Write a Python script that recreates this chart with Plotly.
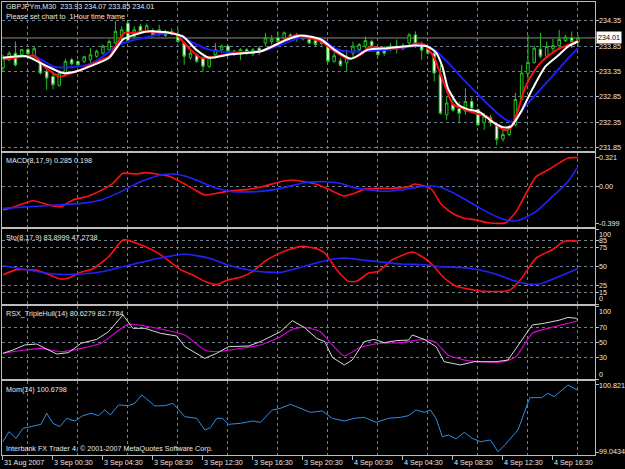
import plotly.graph_objects as go

# ---------------- data ----------------
header_main = "GBPJPYm,M30  233.93 234.07 233.85 234.01"
header_note = "Please set chart to  1Hour time frame"
header_macd = "MACD(8,17,9) 0.285 0.198"
header_sto = "Sto(8,17,9) 83.8999 47.2738"
header_rsx = "RSX_TripleHull(14) 80.6279 82.7784"
header_mom = "Mom(14) 100.6798"
copyright_text = "Interbank FX Trader 4, \u00a9 2001-2007 MetaQuotes Software Corp."

time_label_bars = [0, 8, 16, 24, 32, 40, 48, 56, 64, 72, 80, 88]
time_labels = ["31 Aug 2007", "3 Sep 00:30", "3 Sep 04:30", "3 Sep 08:30", "3 Sep 12:30",
               "3 Sep 16:30", "3 Sep 20:30", "4 Sep 00:30", "4 Sep 04:30", "4 Sep 08:30",
               "4 Sep 12:30", "4 Sep 16:30"]
grid_bars = [4, 12, 20, 28, 36, 44, 52, 60, 68, 76, 84, 92]

bar_open = [233.42, 233.58, 233.71, 233.68, 233.78, 233.66, 233.52, 233.35, 233.25, 233.08,
            233.29, 233.58, 233.55, 233.55, 233.58, 233.65, 233.71, 233.78, 233.91, 234.04,
            234.30, 234.04, 234.24, 234.14, 234.16, 234.11, 234.14, 234.09, 234.07, 233.91,
            233.62, 233.68, 233.62, 233.45, 233.68, 233.78, 233.85, 233.75, 233.71, 233.78,
            233.70, 233.81, 233.91, 233.94, 234.01, 234.01, 234.07, 234.07, 233.99, 233.98,
            233.96, 233.96, 233.85, 233.55, 233.56, 233.52, 233.71, 233.78, 233.85, 233.94,
            233.78, 233.81, 233.78, 233.85, 233.79, 233.91, 234.07, 233.85, 233.79, 233.71,
            233.29, 232.50, 232.70, 232.62, 232.57, 232.76, 232.60, 232.34, 232.45, 232.30,
            232.02, 232.11, 232.30, 232.80, 233.31, 233.53, 233.79, 233.65, 233.80, 233.86,
            233.96, 234.01, 233.93]
bar_high = [233.68, 233.75, 233.94, 233.79, 233.81, 233.85, 233.55, 233.42, 233.32, 233.35,
            233.60, 233.62, 233.57, 233.66, 233.81, 233.78, 233.88, 233.98, 234.34, 234.24,
            234.35, 234.24, 234.29, 234.29, 234.20, 234.27, 234.17, 234.20, 234.20, 233.94,
            233.78, 233.71, 233.65, 233.65, 233.91, 233.88, 233.88, 233.78, 233.81, 233.81,
            233.81, 233.85, 234.11, 234.07, 234.14, 234.14, 234.11, 234.11, 234.07, 234.04,
            234.01, 234.00, 233.91, 233.81, 233.62, 233.78, 233.94, 233.91, 234.04, 233.98,
            233.85, 233.85, 233.91, 233.98, 233.91, 234.11, 234.14, 233.94, 233.85, 233.78,
            233.48, 232.86, 232.89, 232.76, 233.02, 232.83, 232.63, 232.53, 232.50, 232.33,
            232.20, 232.30, 232.93, 233.48, 234.07, 233.86, 234.11, 233.94, 233.99, 234.17,
            234.07, 234.14, 234.07]
bar_low = [233.35, 233.55, 233.45, 233.62, 233.66, 233.58, 233.29, 232.99, 233.00, 233.05,
           233.25, 233.47, 233.47, 233.52, 233.52, 233.62, 233.68, 233.75, 233.88, 233.94,
           233.91, 234.01, 234.11, 234.11, 234.04, 234.04, 234.03, 234.06, 233.91, 233.48,
           233.58, 233.52, 233.35, 233.42, 233.65, 233.71, 233.71, 233.65, 233.58, 233.68,
           233.65, 233.68, 233.85, 233.88, 233.91, 233.98, 233.99, 233.94, 233.96, 233.88,
           233.85, 233.86, 233.52, 233.52, 233.45, 233.34, 233.62, 233.75, 233.81, 233.81,
           233.65, 233.65, 233.75, 233.71, 233.78, 233.85, 233.81, 233.58, 233.68, 233.16,
           232.50, 232.40, 232.55, 232.33, 232.50, 232.60, 232.27, 232.20, 232.27, 231.90,
           231.97, 232.08, 232.27, 232.78, 233.19, 233.50, 233.61, 233.62, 233.74, 233.78,
           233.93, 233.81, 233.85]
bar_close = [233.62, 233.71, 233.48, 233.78, 233.70, 233.80, 233.32, 233.22, 233.09, 233.32,
             233.55, 233.50, 233.48, 233.64, 233.68, 233.75, 233.85, 233.94, 234.14, 234.17,
             233.94, 234.17, 234.14, 234.25, 234.07, 234.17, 234.06, 234.14, 233.94, 233.65,
             233.71, 233.55, 233.45, 233.62, 233.78, 233.85, 233.75, 233.68, 233.78, 233.71,
             233.78, 233.73, 234.01, 233.99, 233.94, 234.11, 234.03, 233.99, 234.04, 233.91,
             233.88, 233.90, 233.55, 233.66, 233.47, 233.62, 233.85, 233.88, 233.96, 233.85,
             233.68, 233.71, 233.85, 233.79, 233.85, 234.07, 233.85, 233.77, 233.71, 233.32,
             232.53, 232.73, 232.59, 232.53, 232.76, 232.63, 232.30, 232.47, 232.34, 232.01,
             232.11, 232.25, 232.80, 233.32, 233.53, 233.81, 233.65, 233.84, 233.86, 233.98,
             234.03, 233.94, 234.01]
bar_index = list(range(len(bar_close)))

ma_fast_x = [0, 3, 5, 6.6, 9, 10.3, 12.5, 14.6, 17, 18.3, 19.4, 21, 22.6, 25, 27.4, 28.5, 30, 31.7,
             34, 37, 41.3, 44.5, 46.6, 48, 50.9, 53, 55.2, 57.3, 58.4, 61.6, 64.8, 65.9, 67.4, 69,
             70, 71, 72, 73.5, 75.5, 77.5, 79.2, 80.3, 81.2, 82.3, 83.5, 85, 86.5, 88.7, 90.5, 92]
ma_fast_y = [233.58, 233.64, 233.66, 233.45, 233.25, 233.29, 233.39, 233.52, 233.65, 233.91, 234.11,
             234.11, 234.14, 234.11, 234.11, 233.98, 233.78, 233.62, 233.65, 233.71, 233.75, 233.94,
             234.06, 234.04, 233.94, 233.75, 233.60, 233.68, 233.82, 233.81, 233.84, 233.90, 233.88,
             233.62, 233.30, 232.98, 232.70, 232.62, 232.53, 232.46, 232.27, 232.20, 232.23, 232.55,
             233.02, 233.36, 233.58, 233.78, 233.88, 233.96]
ma_mid_x = [0, 3.7, 7.1, 9.6, 11.7, 13.9, 17, 19.2, 21, 23.5, 26.7, 28.8, 30.9, 33, 36, 41.3, 45.5,
            47.7, 50.9, 53, 55.7, 58.4, 61.6, 65.9, 68, 69.3, 70.3, 71.2, 72.8, 74.3, 76.3, 78.3,
            80.2, 81.3, 82.9, 84.7, 86.8, 88.7, 90.4, 92]
ma_mid_y = [233.62, 233.65, 233.45, 233.32, 233.35, 233.45, 233.62, 233.98, 234.07, 234.14, 234.11,
            234.04, 233.78, 233.62, 233.68, 233.75, 233.98, 234.06, 233.98, 233.78, 233.60, 233.78,
            233.81, 233.86, 233.84, 233.72, 233.45, 233.02, 232.70, 232.61, 232.55, 232.36, 232.25,
            232.27, 232.56, 233.00, 233.45, 233.65, 233.84, 233.94]
ma_slow_x = [0, 5, 8, 10.3, 13.5, 15.7, 18, 20, 23.5, 26.5, 28, 30, 33, 37, 41.3, 44.5, 47.7, 51,
             53, 54.6, 58.4, 61.6, 64.8, 67.4, 69, 71.4, 74, 76.8, 79.4, 81, 81.8, 83.4, 85.5, 88,
             90.2, 92]
ma_slow_y = [233.62, 233.65, 233.45, 233.43, 233.48, 233.62, 233.84, 233.94, 234.04, 234.11, 234.07,
             233.94, 233.78, 233.73, 233.75, 233.88, 234.02, 233.99, 233.81, 233.75, 233.75, 233.78,
             233.83, 233.86, 233.78, 233.50, 233.15, 232.80, 232.50, 232.37, 232.37, 232.64, 232.93,
             233.27, 233.58, 233.81]

price_levels = [231.85, 232.35, 232.85, 233.35, 233.85, 234.35]

macd_x = [0, 1.6, 4.8, 8, 9.3, 11.2, 13.7, 16.3, 17.6, 19.2, 21.4, 22.7, 24.6, 26.5, 28.4, 30.3,
          32.3, 34.2, 36.7, 39.3, 41.9, 44.4, 46.3, 48.2, 50.2, 52.1, 54.6, 55.9, 57.8, 59.7, 62.3,
          64.9, 65.8, 67.4, 68.7, 70, 71.9, 73.8, 75.7, 77.6, 79.6, 80.5, 82.1, 84, 85.3, 87.2,
          89.1, 90.4, 92]
macd_y = [-0.252, -0.223, -0.150, -0.208, -0.215, -0.142, -0.099, -0.015, 0.040, 0.150, 0.142,
          0.157, 0.142, 0.120, 0.058, -0.015, -0.088, -0.069, -0.040, -0.026, 0.011, 0.058, 0.077,
          0.058, 0.029, -0.026, -0.099, -0.077, -0.026, -0.015, -0.015, 0.004, 0.033, 0.011,
          -0.033, -0.179, -0.288, -0.343, -0.361, -0.391, -0.398, -0.391, -0.270, -0.033, 0.113,
          0.186, 0.267, 0.318, 0.321]
macd_sig_x = [0, 6.1, 12.5, 15.7, 18.9, 22, 25.2, 27.2, 29.1, 31.6, 34.2, 36.7, 40.6, 44.4, 48.2,
              51.4, 54, 56, 58.5, 61, 63.6, 66.1, 68.7, 70, 73.2, 76.4, 79.6, 81.5, 82.7, 85.3,
              87.9, 90.4, 92]
macd_sig_y = [-0.234, -0.208, -0.179, -0.142, -0.051, 0.058, 0.131, 0.142, 0.120, 0.058, -0.015,
              -0.051, -0.051, -0.015, 0.047, 0.058, 0.040, -0.004, -0.033, -0.047, -0.033, -0.004,
              0.011, -0.004, -0.106, -0.234, -0.343, -0.372, -0.361, -0.270, -0.106, 0.058, 0.223]
macd_labels = ["0.321", "0.00", "-0.399"]
macd_label_vals = [0.321, 0.0, -0.399]

sto_x = [0, 2.2, 5.4, 8, 9.3, 10.5, 12.5, 14.4, 17, 18.9, 19.5, 21.7, 23.3, 25.2, 28.4, 30.3, 32.3,
         34.2, 36.1, 38, 40, 41.9, 43.8, 45.7, 47.9, 50.2, 51.5, 53.4, 55.3, 56.6, 58.5, 60.1, 62.3,
         65.5, 67.4, 68.7, 70.6, 72.5, 75.1, 77, 80.2, 81.2, 82.8, 85.3, 87.9, 89.8, 92]
sto_y = [39.1, 45.8, 44.9, 36.9, 33.3, 34.7, 42.2, 47.1, 63.6, 83.6, 85.8, 80, 74.7, 65.8, 45.8,
         39.1, 30.2, 25.8, 32.4, 35.6, 43.6, 56.9, 65.8, 72.4, 76.9, 73.8, 68, 45.8, 30.2, 30.2,
         41.3, 43.6, 59.1, 69.3, 61.3, 52.4, 34.7, 23.6, 19.1, 16.9, 16.9, 19.1, 32.4, 61.3, 72.4,
         83.6, 83.9]
sto_sig_x = [0, 2.9, 8, 12.5, 16.3, 20.1, 25.2, 29.1, 32.9, 36.7, 40.6, 44.4, 48.2, 52.1, 54.6,
             57.2, 60.4, 63.6, 67.4, 70, 74.4, 78.3, 82.1, 84, 85.9, 89.1, 92]
sto_sig_y = [51.1, 47.1, 40, 40, 43.6, 51.6, 61.3, 66.7, 61.3, 50.2, 43.6, 42.2, 50.2, 59.1, 61.3,
             59.1, 56, 53.3, 52.4, 49.8, 48, 41.3, 30.2, 26.7, 26.7, 36.9, 47.3]
sto_levels = [15, 25, 50, 75, 85]
sto_labels = ["100", "85", "75", "50", "25", "15", "0"]
sto_label_vals = [100, 85, 75, 50, 25, 15, 0]

rsx_x = [0, 1.6, 3.5, 5.4, 8.6, 10.5, 12.5, 15, 16.9, 18.2, 19.2, 20.8, 22.7, 25.2, 27.8, 29.1,
         32.3, 34.2, 36.1, 39.3, 41.2, 44.4, 46.3, 48.2, 50.2, 51.5, 52.7, 54.6, 55.9, 57.8, 59.4,
         61, 62.9, 64.9, 65.5, 67.4, 69.3, 70.6, 73.2, 75.4, 77, 78.9, 80.8, 82.8, 84.7, 86.6,
         89.1, 90.4, 91.7, 92]
rsx_y = [35.2, 39.7, 46.6, 47.9, 34.2, 36.1, 48.9, 54.3, 64.8, 78.5, 87.7, 69.4, 69.4, 62.6, 58.9,
         44.3, 28.3, 35.2, 44.3, 45.2, 51.1, 64.8, 79.9, 70.8, 55.7, 51.1, 29.7, 19.2, 26, 51.1,
         54.3, 49.8, 52.5, 53.4, 60.3, 54.3, 44.3, 23.7, 19.2, 23.7, 23.7, 23.7, 26, 51.1, 74,
         76.3, 80.8, 84.5, 83.1, 80.6]
rsx_sig_x = [0, 3.5, 6.1, 9.3, 12.5, 15.7, 18.2, 20.1, 22.7, 26.5, 29.1, 32.3, 34.2, 38, 41.2,
             44.4, 46.3, 48.2, 50.8, 52.7, 54.6, 57.2, 60.4, 63.6, 67.4, 69.3, 71.2, 73.8, 76.4,
             80.2, 82.1, 84.7, 87.9, 90.4, 92]
rsx_sig_y = [35.2, 39.7, 42, 37.4, 42, 48.9, 64.8, 75.3, 72.6, 66.2, 60.3, 39.7, 37.4, 42, 46.6,
             58, 68, 70.8, 64.8, 46.6, 31.5, 43.4, 48.9, 49.8, 54.3, 49.8, 32.9, 26, 23.7, 23.7,
             30.6, 62.6, 70.8, 76.3, 79.9]
rsx_levels = [30, 50, 70]
rsx_labels = ["100", "70", "50", "30", "0"]
rsx_label_vals = [100, 70, 50, 30, 0]

mom_x = [0, 0.96, 2.1, 3.2, 4.5, 6.1, 7, 8, 9.1, 10.2, 11.5, 12.8, 14.1, 15.3, 16.3, 17.2, 18.5,
         20.1, 21.1, 22.2, 23, 24.3, 25.9, 27.2, 29.1, 31, 32.3, 33.2, 34.2, 35.1, 36.1, 38, 40,
         41.2, 43.1, 44.4, 46, 47.6, 49.2, 51.1, 52.7, 54.6, 56.2, 57.8, 59.7, 61.7, 63.6, 64.9,
         66.1, 67.4, 68.4, 69.3, 70.3, 71.3, 72.5, 73.8, 75.1, 76.4, 78, 79.2, 80.2, 82.4, 84.3,
         86.2, 87.2, 88.2, 90.4, 92]
mom_y = [99.318, 99.583, 99.406, 99.671, 99.716, 99.778, 100.07, 99.804, 99.716, 99.937, 99.866,
         100.008, 100.07, 100.008, 100.158, 100.025, 100.291, 100.273, 100.335, 100.556, 100.45,
         100.264, 100.273, 100.335, 99.981, 99.937, 99.627, 99.689, 99.937, 99.937, 99.778,
         99.804, 99.866, 99.83, 100.158, 100.202, 100.308, 100.202, 100.096, 100.131, 99.937,
         99.866, 99.937, 99.963, 99.83, 99.937, 99.963, 100.008, 100.158, 100.096, 100.158,
         99.937, 99.45, 99.494, 99.388, 99.565, 99.406, 99.318, 99.362, 99.052, 99.212, 99.627,
         100.485, 100.485, 100.6, 100.512, 100.821, 100.68]
mom_labels = ["100.8212", "99.0434"]
mom_label_vals = [100.8212, 99.0434]

# ---------------- styling ----------------
W, H = 625, 469
BG = "#000000"
FG = "#e8e8e8"
BORDER = "#bcbcbc"
GRID = "#6f7f8f"
CANDLE = "#22c322"
FONT = "Liberation Sans, Arial, sans-serif"
FS = 7.2


def py(px):
    return 1 - px / H


XDOM = [2 / W, 595 / W]
panels = {  # pixel top, bottom
    1: (2, 151), 2: (153, 227), 3: (229, 304), 4: (306, 379), 5: (381, 455)}
yranges = {1: [231.785, 234.718], 2: [-0.438, 0.372], 3: [0, 100], 4: [0, 100], 5: [98.964, 100.927]}
XRANGE = [-0.15, 94.73]

fig = go.Figure()

fig.add_trace(go.Candlestick(
    x=bar_index, open=bar_open, high=bar_high, low=bar_low, close=bar_close,
    increasing=dict(line=dict(color=CANDLE, width=1), fillcolor="#000000"),
    decreasing=dict(line=dict(color=CANDLE, width=1), fillcolor="#ffffff"),
    whiskerwidth=0, xaxis="x", yaxis="y", showlegend=False, hoverinfo="skip"))

fig.add_trace(go.Scatter(x=ma_slow_x, y=ma_slow_y, mode="lines", line=dict(color="#1c1cff", width=2, shape="spline", smoothing=0.6),
                         xaxis="x", yaxis="y", showlegend=False, hoverinfo="skip"))
fig.add_trace(go.Scatter(x=ma_fast_x, y=ma_fast_y, mode="lines", line=dict(color="#ff1010", width=2, shape="spline", smoothing=0.6),
                         xaxis="x", yaxis="y", showlegend=False, hoverinfo="skip"))
fig.add_trace(go.Scatter(x=ma_mid_x, y=ma_mid_y, mode="lines", line=dict(color="#ffffff", width=2, shape="spline", smoothing=0.6),
                         xaxis="x", yaxis="y", showlegend=False, hoverinfo="skip"))

fig.add_trace(go.Scatter(x=macd_x, y=macd_y, mode="lines", line=dict(color="#ff1010", width=1.6, shape="spline", smoothing=0.5),
                         xaxis="x2", yaxis="y2", showlegend=False, hoverinfo="skip"))
fig.add_trace(go.Scatter(x=macd_sig_x, y=macd_sig_y, mode="lines", line=dict(color="#2222ff", width=1.6, shape="spline", smoothing=0.5),
                         xaxis="x2", yaxis="y2", showlegend=False, hoverinfo="skip"))

fig.add_trace(go.Scatter(x=sto_x, y=sto_y, mode="lines", line=dict(color="#ff1010", width=1.6, shape="spline", smoothing=0.5),
                         xaxis="x3", yaxis="y3", showlegend=False, hoverinfo="skip"))
fig.add_trace(go.Scatter(x=sto_sig_x, y=sto_sig_y, mode="lines", line=dict(color="#2222ff", width=1.6, shape="spline", smoothing=0.5),
                         xaxis="x3", yaxis="y3", showlegend=False, hoverinfo="skip"))

fig.add_trace(go.Scatter(x=rsx_sig_x, y=rsx_sig_y, mode="lines", line=dict(color="#e000e0", width=1.1, shape="spline", smoothing=0.5),
                         xaxis="x4", yaxis="y4", showlegend=False, hoverinfo="skip"))
fig.add_trace(go.Scatter(x=rsx_x, y=rsx_y, mode="lines", line=dict(color="#d8d8d8", width=1),
                         xaxis="x4", yaxis="y4", showlegend=False, hoverinfo="skip"))

fig.add_trace(go.Scatter(x=mom_x, y=mom_y, mode="lines", line=dict(color="#2b8fea", width=1),
                         xaxis="x5", yaxis="y5", showlegend=False, hoverinfo="skip"))

# current price line
fig.add_shape(type="line", xref="x domain", x0=0, x1=1, yref="y", y0=bar_close[-1], y1=bar_close[-1],
              line=dict(color="#8a8a8a", width=1), layer="below")

grid_levels = {1: price_levels, 2: [0.0], 3: sto_levels, 4: rsx_levels, 5: []}
tick_only = {1: [], 2: [0.321, -0.399], 3: [0, 100], 4: [0, 100], 5: mom_label_vals}

layout = dict(width=W, height=H, margin=dict(l=0, r=0, t=0, b=0), paper_bgcolor=BG, plot_bgcolor=BG,
              showlegend=False, boxgap=0.42, font=dict(family=FONT, size=FS, color=FG), hovermode=False)
for k in range(1, 6):
    sx = "" if k == 1 else str(k)
    top, bot = panels[k]
    xa = dict(domain=XDOM, range=XRANGE, anchor="y" + sx, tickmode="array", tickvals=grid_bars,
              showgrid=True, gridcolor=GRID, griddash="dot", gridwidth=1, showticklabels=False,
              ticks="", showline=True, mirror=True, linecolor=BORDER, linewidth=1, zeroline=False,
              fixedrange=True, rangeslider=dict(visible=False))
    if k == 5:
        xa["minor"] = dict(tickmode="array", tickvals=time_label_bars, ticks="outside", ticklen=4,
                           tickcolor=BORDER, showgrid=False)
    ya = dict(domain=[py(bot), py(top)], range=yranges[k], anchor="x" + sx, side="right",
              tickmode="array", tickvals=grid_levels[k], showgrid=len(grid_levels[k]) > 0,
              gridcolor=GRID, griddash="dot", gridwidth=1, showticklabels=False,
              ticks="outside", ticklen=3, tickcolor=BORDER, showline=True, mirror=True,
              linecolor=BORDER, linewidth=1, zeroline=False, fixedrange=True,
              minor=dict(tickmode="array", tickvals=tick_only[k], ticks="outside", ticklen=3,
                         tickcolor=BORDER, showgrid=False))
    layout["xaxis" + sx] = xa
    layout["yaxis" + sx] = ya
fig.update_layout(**layout)

ann = []
def txt(text, x, y, xref="paper", yref="paper", xanchor="left", **kw):
    d = dict(text=text, x=x, y=y, xref=xref, yref=yref, xanchor=xanchor, yanchor="middle",
             showarrow=False, font=dict(family=FONT, size=FS, color=FG), borderpad=0)
    d.update(kw)
    ann.append(d)

LX = 5 / W
txt(header_main, LX, py(6.7))
txt(header_note, LX, py(16.5))
txt(header_macd, LX, py(160.5))
txt(header_sto, LX, py(237.5))
txt(header_rsx, LX, py(313.5))
txt(header_mom, LX, py(389.5))
txt(copyright_text, LX, py(448.5))

for b, lab in zip(time_label_bars, time_labels):
    txt(lab, b, py(462.5), xref="x5", xshift=0)

RX = 597.5 / W
for v in price_levels:
    txt(f"{v:.2f}", RX, v, yref="y")
ann.append(dict(text=f"{bar_close[-1]:.2f}", x=596 / W, y=bar_close[-1], xref="paper", yref="y",
                xanchor="left", yanchor="middle", showarrow=False, bgcolor="#ffffff",
                font=dict(family=FONT, size=FS, color="#000000"), borderpad=1))
for lab, v in zip(macd_labels, macd_label_vals):
    txt(lab, RX, v, yref="y2")
sto_shift = {100: -5, 0: 6}
for lab, v in zip(sto_labels, sto_label_vals):
    txt(lab, RX, v, yref="y3", yshift=sto_shift.get(v, 0))
rsx_shift = {100: -5, 0: 5}
for lab, v in zip(rsx_labels, rsx_label_vals):
    txt(lab, RX, v, yref="y4", yshift=rsx_shift.get(v, 0))
for lab, v in zip(mom_labels, mom_label_vals):
    txt(lab, RX, v, yref="y5", yshift=-1 if v > 100 else 1)

fig.update_layout(annotations=ann)
fig.write_html("out.html", config={"displayModeBar": False, "staticPlot": True})
